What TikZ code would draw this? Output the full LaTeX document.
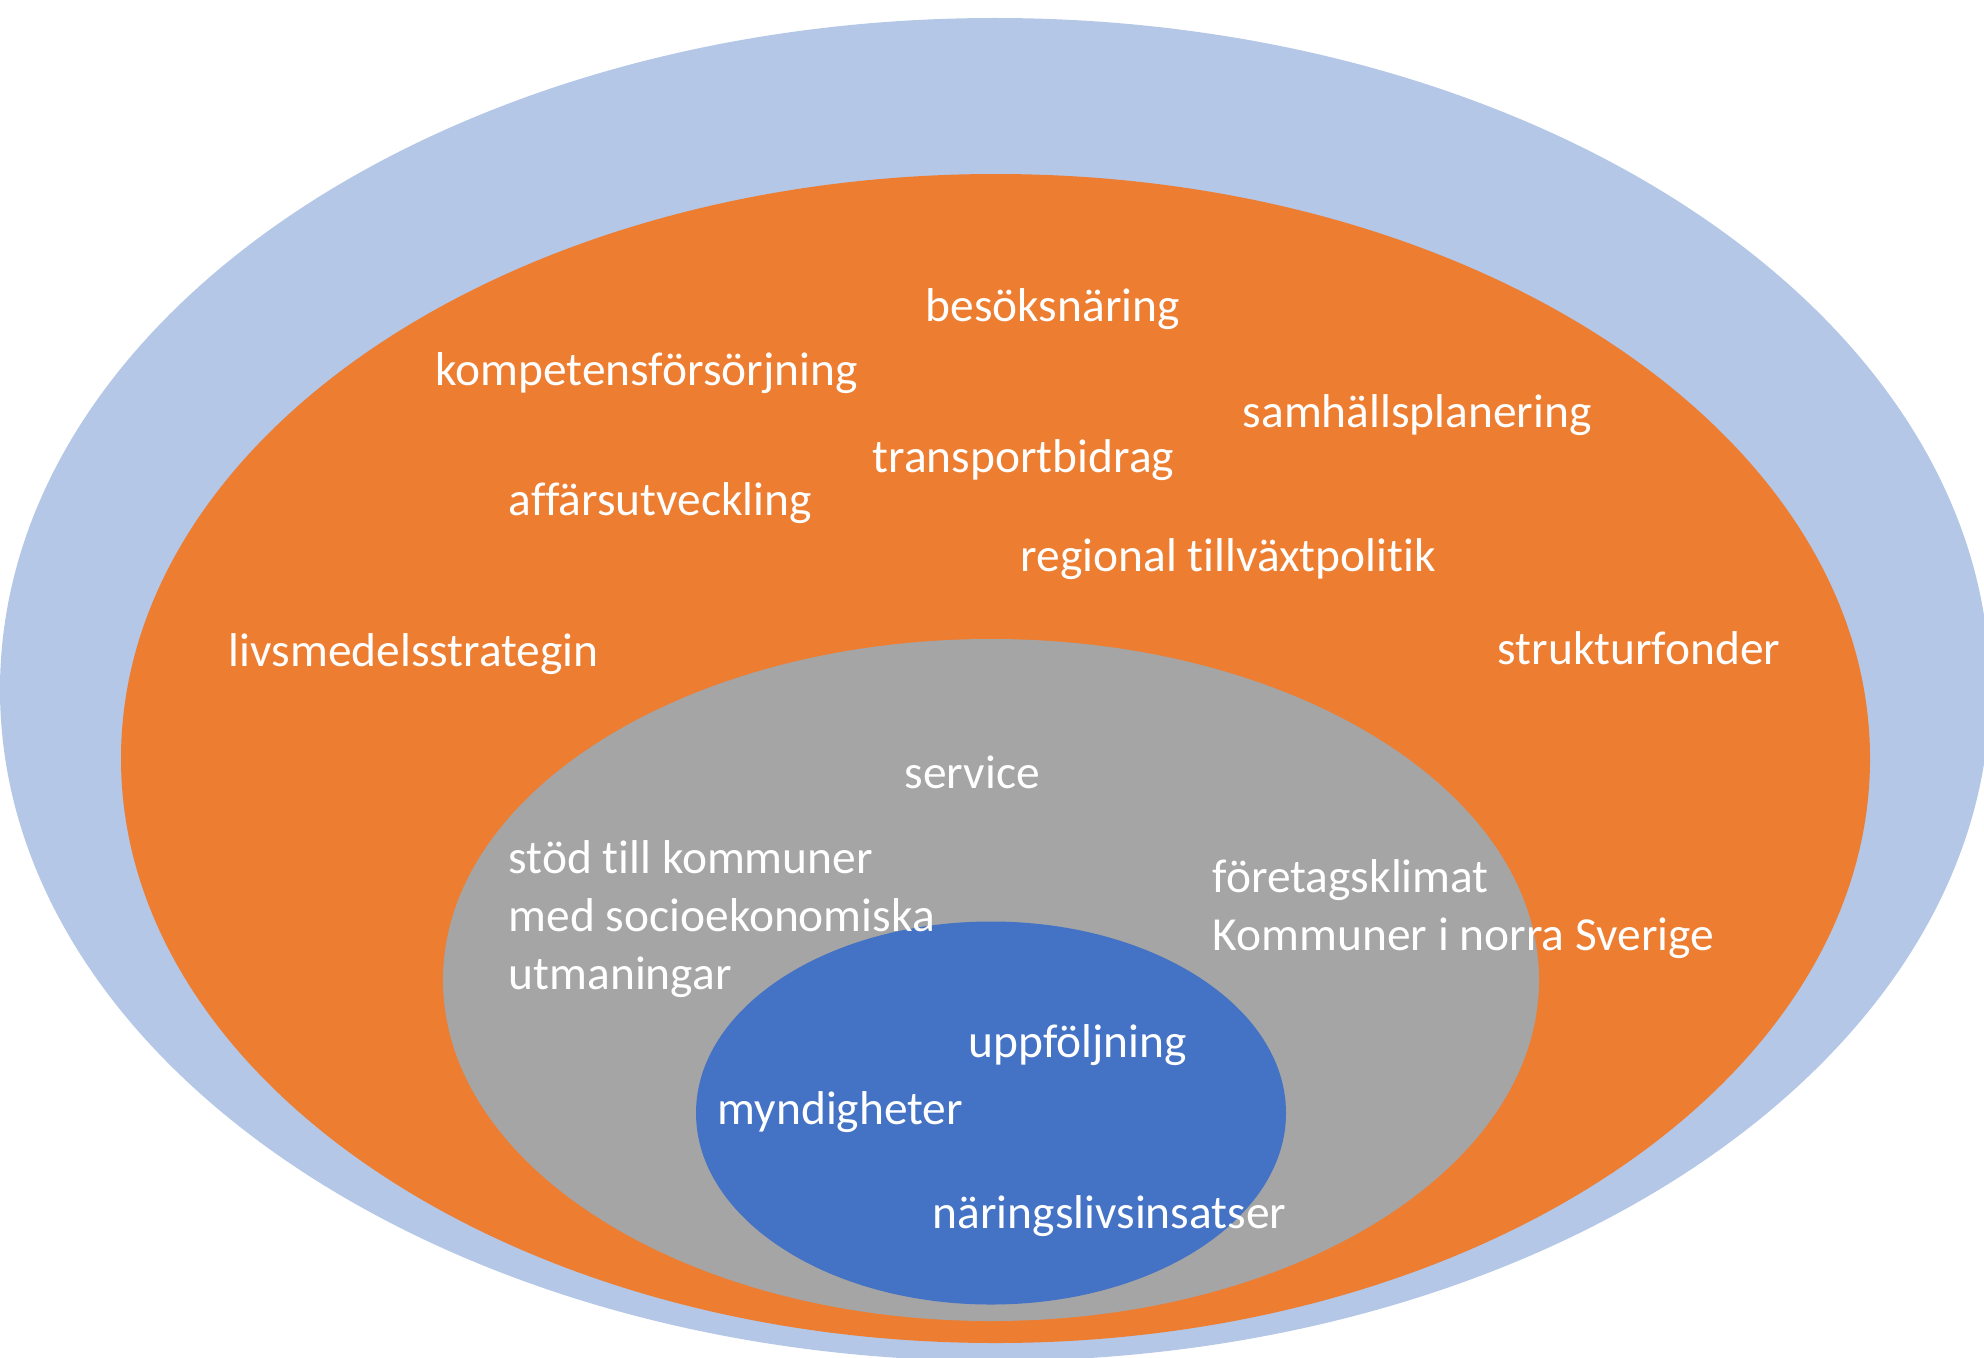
\documentclass[tikz,border=0pt]{standalone}
\usepackage{fontspec}
\setmainfont{Carlito}[Ligatures=NoCommon]
\usepackage{xcolor}
\usetikzlibrary{shapes.geometric}
\definecolor{ringLightBlue}{HTML}{B4C7E7}
\definecolor{ringOrange}{HTML}{ED7D31}
\definecolor{ringGray}{HTML}{A5A5A5}
\definecolor{ringBlue}{HTML}{4472C4}

\begin{document}
\begin{tikzpicture}[
    ring/.style={ellipse, inner sep=0pt, draw=none},
    itemtext/.style={anchor=base west, inner sep=0pt, text=white, font=\fontsize{13.5}{16.6}\selectfont}
  ]
            \useasboundingbox (0,0) rectangle (19.84,-13.57);
            \clip (0,0) rectangle (19.84,-13.57);

            % Rings
            \node[ring, fill=ringLightBlue, minimum width=19.90cm, minimum height=13.43cm] (outer) at (9.95,-6.895) {};
            \node[ring, fill=ringOrange, minimum width=17.49cm, minimum height=11.69cm] (region) at (9.955,-7.585) {};
            \node[ring, fill=ringGray, minimum width=10.96cm, minimum height=6.82cm] (municipal) at (9.91,-9.80) {};
            \node[ring, fill=ringBlue, minimum width=5.90cm, minimum height=3.83cm] (core) at (9.91,-11.13) {};

            % Orange ring
            \node[itemtext] (besok) at (9.25,-3.21) {besöksnäring};
            \node[itemtext] (kompetens) at (4.35,-3.85) {kompetensförsörjning};
            \node[itemtext] (samhall) at (12.42,-4.27) {samhällsplanering};
            \node[itemtext] (transport) at (8.72,-4.72) {transportbidrag};
            \node[itemtext] (affar) at (5.08,-5.15) {affärsutveckling};
            \node[itemtext] (regional) at (10.20,-5.716) {regional tillväxtpolitik};
            \node[itemtext] (livsmedel) at (2.28,-6.66) {livsmedelsstrategin};
            \node[itemtext] (struktur) at (14.97,-6.64) {strukturfonder};

            % Gray ring
            \node[itemtext] (service) at (9.04,-7.88) {service};
            \node[itemtext] (stod) at (5.08,-8.73) {\begin{tabular}[t]{@{}l@{}}stöd till kommuner\\med socioekonomiska\\utmaningar\end{tabular}};
            \node[itemtext] (klimat) at (12.12,-8.925) {\begin{tabular}[t]{@{}l@{}}företagsklimat\\Kommuner i norra Sverige\end{tabular}};

            % Blue core
            \node[itemtext] (uppfolj) at (9.68,-10.57) {uppföljning};
            \node[itemtext] (myndighet) at (7.17,-11.245) {myndigheter};
            \node[itemtext] (naring) at (9.32,-12.286) {näringslivsinsatser};
        \end{tikzpicture}
\end{document}
